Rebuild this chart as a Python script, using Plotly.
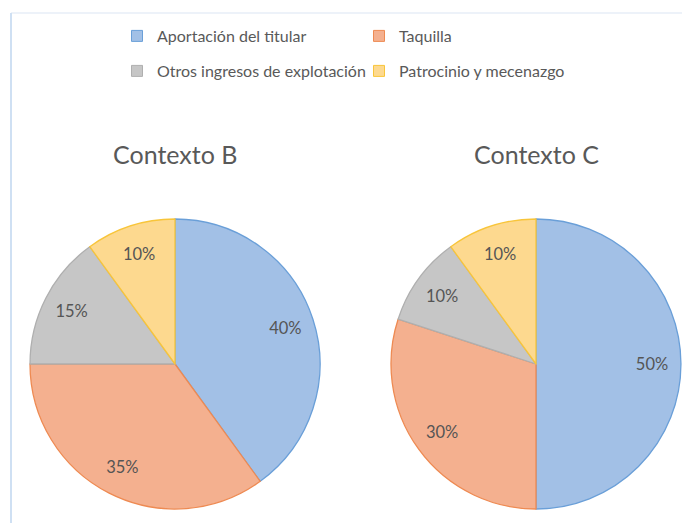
import plotly.graph_objects as go

# Revenue sources and their shares per scenario
categories = ["Aportación del titular", "Taquilla",
              "Otros ingresos de explotación", "Patrocinio y mecenazgo"]
contexto_b = [40, 35, 15, 10]
contexto_c = [50, 30, 10, 10]
titles = ["Contexto B", "Contexto C"]

fill_colors = ["#A2C0E6", "#F4B08F", "#C6C6C6", "#FDD98F"]
line_colors = ["#6A9FD8", "#EE8A52", "#AFAFAF", "#F8C53A"]

FONT = "Lato"
TXT = "#595959"

W, H = 682, 523

fig = go.Figure()

domains = [
    dict(x=[30 / W, 320 / W], y=[1 - 509 / H, 1 - 219 / H]),
    dict(x=[391 / W, 681 / W], y=[1 - 509 / H, 1 - 219 / H]),
]

for vals, dom in zip([contexto_b, contexto_c], domains):
    # filled pie
    fig.add_trace(go.Pie(
        labels=categories,
        values=vals,
        sort=False,
        direction="clockwise",
        rotation=0,
        domain=dom,
        marker=dict(colors=fill_colors, line=dict(color=line_colors, width=1.3)),
        textinfo="none",
        showlegend=False,
        hoverinfo="label+percent",
    ))
    # transparent ring on top that carries the percentage labels near the rim
    fig.add_trace(go.Pie(
        labels=categories,
        values=vals,
        sort=False,
        direction="clockwise",
        rotation=0,
        domain=dom,
        hole=0.6,
        marker=dict(colors=["rgba(0,0,0,0)"] * len(vals), line=dict(width=0)),
        texttemplate="%{value}%",
        textposition="inside",
        insidetextorientation="horizontal",
        textfont=dict(family=FONT, size=16.5, color="#555555"),
        showlegend=False,
        hoverinfo="skip",
    ))

# Legend entries (two rows of two)
for i, (name, fc, lc) in enumerate(zip(categories, fill_colors, line_colors)):
    fig.add_trace(go.Scatter(
        x=[None], y=[None], mode="markers", name=name,
        marker=dict(symbol="square", size=11, color=fc, line=dict(color=lc, width=1)),
        legend="legend" if i < 2 else "legend2",
        hoverinfo="skip",
    ))

legend_common = dict(
    orientation="h",
    xanchor="left",
    yanchor="middle",
    entrywidth=197,
    entrywidthmode="pixels",
    font=dict(family=FONT, size=16, color=TXT),
    bgcolor="rgba(0,0,0,0)",
    borderwidth=0,
)

for i, t in enumerate(titles):
    cx = [175, 536][i]
    fig.add_annotation(
        text=t, x=cx / W, y=1 - 154 / H, xref="paper", yref="paper",
        xanchor="center", yanchor="middle", showarrow=False,
        font=dict(family=FONT, size=25, color=TXT),
    )

# Faint frame along the top and left edge
fig.add_shape(type="line", xref="paper", yref="paper",
              x0=11 / W, x1=1, y0=1 - 13 / H, y1=1 - 13 / H,
              line=dict(color="#EDF2F9", width=2))
fig.add_shape(type="line", xref="paper", yref="paper",
              x0=11 / W, x1=11 / W, y0=0, y1=1 - 13 / H,
              line=dict(color="#CFE0F3", width=2))

fig.update_layout(
    width=W, height=H,
    margin=dict(l=0, r=0, t=0, b=0),
    paper_bgcolor="white",
    plot_bgcolor="white",
    xaxis=dict(visible=False),
    yaxis=dict(visible=False),
    legend=dict(x=(157 - 40) / W, y=1 - 36 / H, **legend_common),
    legend2=dict(x=(157 - 40) / W, y=1 - 71 / H, **legend_common),
)

fig.write_html("out.html")
